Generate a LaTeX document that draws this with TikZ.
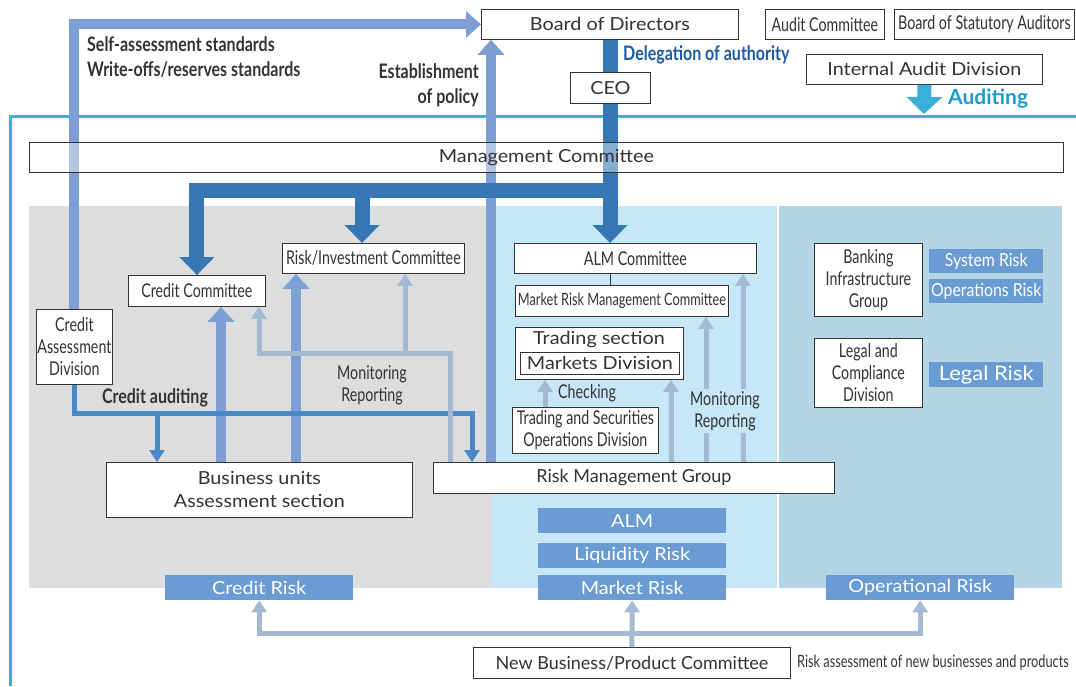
\documentclass[tikz,border=0pt]{standalone}
\usepackage{fontspec}
\setmainfont[FakeStretch=1.1]{Lato}
\newfontfamily\plainfont{Lato}
\newfontfamily\midfont[FakeStretch=0.88]{Lato}
\newfontfamily\condfont[FakeStretch=0.75]{Lato}
\newfontfamily\boldcond[FakeStretch=0.8]{Lato}
\usetikzlibrary{arrows.meta,positioning}

\definecolor{darkblue}{HTML}{3576B3}
\definecolor{lightarrowc}{HTML}{7E9FD4}
\definecolor{midblue}{HTML}{4A88C9}
\definecolor{paleblue}{HTML}{A4B9D4}
\definecolor{riskblue}{HTML}{6A9CD3}
\definecolor{graybg}{HTML}{DCDDDF}
\definecolor{lightbg}{HTML}{C6E7F8}
\definecolor{steelbg}{HTML}{B3D5E6}
\definecolor{framecyan}{HTML}{3AAFD9}
\definecolor{delegtext}{HTML}{1B5AA6}
\definecolor{audittext}{HTML}{1E9AD0}
\definecolor{textgray}{HTML}{333333}

\tikzset{
  box/.style={draw=textgray, fill=white, line width=0.8pt, inner sep=1pt, text=textgray,
    anchor=north west, align=center, font=\fontsize{18}{23}\selectfont},
  cbox/.style={box, font=\condfont\fontsize{19}{22}\selectfont},
  riskbox/.style={fill=riskblue, text=white, anchor=north west, inner sep=0pt,
    font=\fontsize{18}{20}\selectfont},
  boldlabel/.style={text=textgray, inner sep=0pt, font=\boldcond\bfseries\fontsize{20}{25}\selectfont},
  condlabel/.style={text=textgray, inner sep=0pt, align=center, font=\condfont\fontsize{19}{22}\selectfont},
  lightarrow/.style={line width=10pt, draw=lightarrowc, -{Triangle[width=26pt,length=15pt]}},
  darkarrow/.style={line width=15pt, draw=darkblue, -{Triangle[width=34pt,length=18pt]}},
  auditarrow/.style={line width=5pt, draw=midblue, -{Triangle[width=15pt,length=12pt]}},
  monarrow/.style={line width=5pt, draw=paleblue, -{Triangle[width=15pt,length=12pt]}}
}

\begin{document}
\begin{tikzpicture}[x=1pt, y=-1pt]

    \useasboundingbox (0,0) rectangle (1076,686);

    % background areas
    \path[fill=graybg] (29,206) rectangle (491,588);
    \path[fill=lightbg] (491,206) rectangle (777,588);
    \path[fill=steelbg] (779,206) rectangle (1062,588);
    \path[draw=framecyan, line width=3pt] (1076,116) -- (10,116) -- (10,686);

    % top level
    \node[box, minimum width=257pt, minimum height=30pt] (bod) at (481,9) {Board of Directors};
    \node[cbox, minimum width=119pt, minimum height=30pt] (ac) at (765,9) {Audit Committee};
    \node[cbox, minimum width=180pt, minimum height=30pt] (bsa) at (894,9) {Board of Statutory Auditors};
    \node[box, minimum width=236pt, minimum height=30pt] (iad) at (806,54) {Internal Audit Division};

    % coordinates for the connectors
    \coordinate (deleg) at (610,0);
    \coordinate (tbar) at (610,190);
    \coordinate (tmid) at (362,190);
    \coordinate (estab) at (491,0);
    \coordinate (audtip) at (924,114);
    \coordinate (caline) at (472,413);
    \coordinate (cabranch) at (157,413);
    \coordinate (monl) at (450,353);
    \coordinate (monbranch) at (405,353);
    \coordinate (nbline) at (631,633);

    % risk management structure
    \node[cbox, minimum width=137pt, minimum height=31pt] (cc) at (128,275) {Credit Committee};
    \node[cbox, minimum width=182pt, minimum height=30pt] (ric) at (282,243) {Risk/Investment Committee};
    \node[cbox, minimum width=74pt, minimum height=75pt] (cad) at (36,309) {Credit\\Assessment\\Division};
    \node[cbox, minimum width=242pt, minimum height=30pt] (almc) at (514,243) {ALM Committee};
    \node[cbox, minimum width=213pt, minimum height=31pt, font=\condfont\fontsize{17}{20}\selectfont] (mrmc) at (515,285) {Market Risk Management Committee};
    \node[box, minimum width=168pt, minimum height=52pt] (ts) at (515,327) {};
    \node[text=textgray, inner sep=0pt, font=\fontsize{18}{20}\selectfont] (tstext) at (599,340) {Trading section};
    \node[box, minimum width=159pt, minimum height=22pt, inner sep=0pt] (md) at (520,352) {Markets Division};
    \node[cbox, minimum width=146pt, minimum height=46pt] (tsod) at (512,407) {Trading and Securities\\Operations Division};
    \node[box, minimum width=306pt, minimum height=55pt] (bu) at (106,462) {Business units\\Assessment section};
    \node[box, minimum width=401pt, minimum height=31pt, font=\plainfont\fontsize{18}{22}\selectfont] (rmg) at (433,462) {Risk Management Group};
    \node[cbox, minimum width=108pt, minimum height=73pt] (big) at (814,243) {Banking\\Infrastructure\\Group};
    \node[cbox, minimum width=108pt, minimum height=69pt] (lcd) at (814,338) {Legal and\\Compliance\\Division};

    % risk categories
    \node[riskbox, minimum width=114pt, minimum height=24pt, font=\midfont\fontsize{18}{20}\selectfont] (sr) at (929,249) {System Risk};
    \node[riskbox, minimum width=114pt, minimum height=24pt, font=\midfont\fontsize{18}{20}\selectfont] (opsr) at (929,279) {Operations Risk};
    \node[riskbox, minimum width=114pt, minimum height=25pt, font=\fontsize{20}{22}\selectfont] (lr) at (929,362) {Legal Risk};
    \node[riskbox, minimum width=188pt, minimum height=25pt] (alm) at (538,508) {ALM};
    \node[riskbox, minimum width=188pt, minimum height=25pt] (lq) at (538,543) {Liquidity Risk};
    \node[riskbox, minimum width=188pt, minimum height=25pt] (mr) at (538,575) {Market Risk};
    \node[riskbox, minimum width=188pt, minimum height=25pt] (cr) at (165,575) {Credit Risk};
    \node[riskbox, minimum width=188pt, minimum height=25pt] (opr) at (826,575) {Operational Risk};

    \node[box, minimum width=317pt, minimum height=31pt, font=\plainfont\fontsize{18}{22}\selectfont] (nbp) at (473,647) {New Business/Product Committee};
    \node[condlabel, anchor=west, font=\condfont\fontsize{17}{20}\selectfont] (nbptext) at (797,663) {Risk assessment of new businesses and products};

    % connectors
    \path[draw, lightarrow] (cad.north) |- (bod.west);
    \path[draw, lightarrow] (rmg.north -| estab) -- (bod.south -| estab);
    \path[draw, darkarrow] (bod.south -| deleg) -- (almc.north -| deleg);
    \path[draw, darkarrow] (tbar) -| (cc.north);
    \path[draw, darkarrow] (tmid) -- (tmid |- ric.north);
    \path[draw=framecyan, line width=14pt, -{Triangle[width=35pt,length=17pt]}] (iad.south) -- (audtip);
    \path[draw=textgray, line width=0.8pt] (almc.south -| deleg) -- (mrmc.north -| deleg);

    \path[draw, lightarrow] (bu.north -| 221,0) -- (cc.south -| 221,0);
    \path[draw, lightarrow] (bu.north -| 296,0) -- (ric.south -| 296,0);

    \path[draw, auditarrow] (cad.south) |- (caline) -- (caline |- rmg.north);
    \path[draw, auditarrow] (cabranch) -- (cabranch |- bu.north);

    \path[draw, monarrow] (rmg.north -| monl) -- (monl) -| (cc.south -| 259,0);
    \path[draw, monarrow] (monbranch) -- (monbranch |- ric.south);

    \path[draw, monarrow] (tsod.north -| 545,0) -- (ts.south -| 545,0);
    \path[draw, monarrow] (rmg.north -| 671,0) -- (ts.south -| 671,0);
    \path[draw, monarrow] (rmg.north -| 706,0) -- (mrmc.south -| 706,0);
    \path[draw, monarrow] (rmg.north -| 743,0) -- (almc.south -| 743,0);

    \path[draw, monarrow] (nbp.north) -- (mr.south);
    \path[draw, monarrow, {Triangle[width=15pt,length=12pt]}-{Triangle[width=15pt,length=12pt]}] (cr.south) |- (nbline) -| (opr.south);

    % boxes over the arrows
    \node[box, minimum width=80pt, minimum height=31pt] (ceo) at (570,72) {CEO};
    \node[box, fill opacity=0.4, text opacity=1, minimum width=1034pt, minimum height=30pt] (mc) at (29,142) {Management Committee};

    % labels
    \node[boldlabel, anchor=west, align=left] (selfl) at (87,57) {Self-assessment standards\\Write-offs/reserves standards};
    \node[boldlabel, anchor=east, align=right] (estl) at (479,85) {Establishment\\of policy};
    \node[boldlabel, anchor=west, text=delegtext] (delegl) at (623,55) {Delegation of authority};
    \node[boldlabel, anchor=west, text=audittext, font=\plainfont\bfseries\fontsize{21}{22}\selectfont] (auditl) at (948,99) {Auditing};
    \node[boldlabel] (cal) at (155,398) {Credit auditing};
    \node[condlabel] (monleft) at (372,385) {Monitoring\\Reporting};
    \node[condlabel, fill=lightbg, inner sep=2pt] (monright) at (725,411) {Monitoring\\Reporting};
    \node[condlabel, anchor=west] (checkl) at (558,393) {Checking};

\end{tikzpicture}
\end{document}
